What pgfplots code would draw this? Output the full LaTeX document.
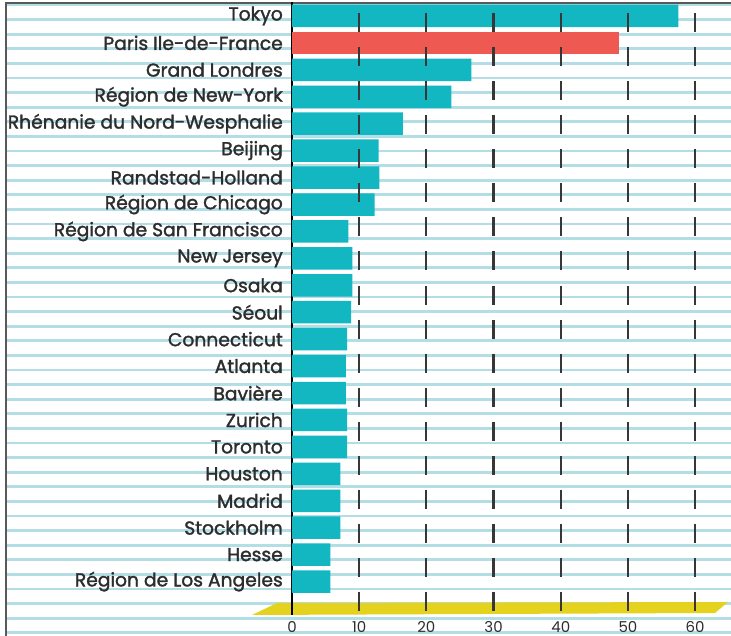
\documentclass[border=0pt]{standalone}
\usepackage{fontspec}
\setmainfont{Poppins}
\newfontfamily\labfont{Poppins}[FakeBold=1.6]
\usepackage{pgfplots}
\pgfplotsset{compat=1.18}
\definecolor{teal1}{RGB}{18,183,194}
\definecolor{red1}{RGB}{238,90,82}
\definecolor{stripe}{RGB}{180,222,230}
\definecolor{yel}{RGB}{228,210,30}
\definecolor{txt}{RGB}{45,45,45}
\definecolor{dashc}{RGB}{55,55,55}
\begin{document}
\begin{tikzpicture}
\useasboundingbox (0,0) rectangle (731pt,636pt);
\fill[white] (0,0) rectangle (731pt,636pt);
\foreach \k in {0,...,43} {
  \pgfmathsetmacro\yy{636-5-14.6*\k}
  \draw[stripe, line width=2.8pt] (7pt,\yy pt) -- (731pt,\yy pt);
}
\fill[yel] (252pt,21pt) -- (277pt,33pt) -- (728pt,34pt) -- (715pt,23pt) -- cycle;
\draw[gray!70!black, line width=2pt] (6pt,0pt) -- (6pt,633pt) -- (731pt,633pt);
\begin{axis}[
  at={(292pt,21pt)}, anchor=south west,
  scale only axis, width=439pt, height=612.5pt,
  xmin=0, xmax=65.33, ymin=-22.24, ymax=0.5,
  axis x line*=bottom, axis y line*=left,
  x axis line style={draw=none},
  y axis line style={line width=2.5pt, black},
  major tick length=0pt,
  xtick={0,10,...,60},
  ytick={-21,-20,...,0},
  yticklabels={Région de Los Angeles, Hesse, Stockholm, Madrid, Houston, Toronto, Zurich, Bavière, Atlanta, Connecticut, Séoul, Osaka, New Jersey, Région de San Francisco, Région de Chicago, Randstad-Holland, Beijing, Rhénanie du Nord-Wesphalie, Région de New-York, Grand Londres, Paris Ile-de-France, Tokyo},
  yticklabel style={font=\labfont\fontsize{18.7}{18.7}\selectfont, text=txt, inner sep=0pt, anchor=east, xshift=-9pt},
  xticklabel style={font=\fontsize{15}{15}\selectfont, text=txt, inner sep=0pt, anchor=north, yshift=-6pt},
  /pgf/number format/assume math mode=true,
  clip=false,
]
\pgfplotsinvokeforeach{-0.26,-1.5225,-2.785,-4.0475,-5.31,-6.5725,-7.835,-9.0975,-10.36,-11.6225,-12.885,-14.1475,-15.41,-16.6725,-17.935,-19.1975,-20.46,-21.7225}{
  \addplot[forget plot, only marks, mark=|, mark size=9.5pt, mark options={line width=2.2pt, draw=dashc}] coordinates {(10,#1)(20,#1)(30,#1)(40,#1)(50,#1)(60,#1)};
}
\addplot[xbar, bar width=22.5pt, bar shift=0pt, fill=teal1, draw=none] coordinates {
(57.5,0) (26.7,-2) (23.7,-3) (16.5,-4) (12.9,-5) (13.0,-6) (12.3,-7) (8.4,-8) (9.0,-9) (9.0,-10) (8.8,-11) (8.2,-12) (8.0,-13) (8.0,-14) (8.2,-15) (8.2,-16) (7.2,-17) (7.2,-18) (7.2,-19) (5.7,-20) (5.7,-21)};
\addplot[xbar, bar width=22.5pt, bar shift=0pt, fill=red1, draw=none] coordinates {(48.6,-1)};
\end{axis}
\end{tikzpicture}
\end{document}
